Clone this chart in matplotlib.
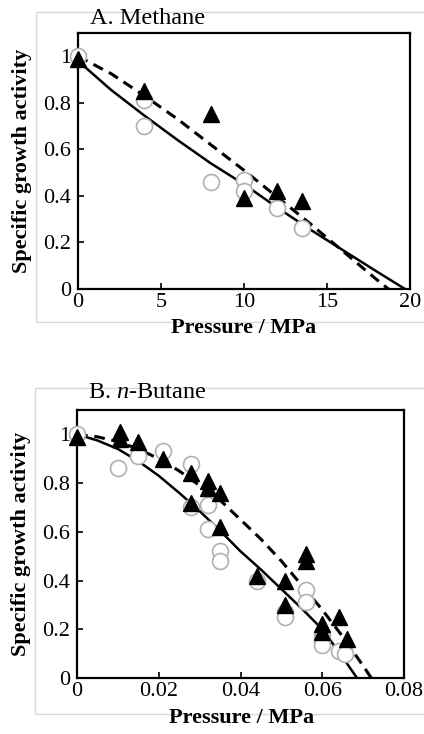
import matplotlib
matplotlib.use('Agg')
import matplotlib.pyplot as plt
from matplotlib.patches import Rectangle

plt.rcParams['font.family'] = 'Liberation Serif'
plt.rcParams['mathtext.fontset'] = 'custom'
plt.rcParams['mathtext.rm'] = 'Liberation Serif'
plt.rcParams['mathtext.it'] = 'Liberation Serif:italic'

# A. Methane
meth_circ_x = [0, 4, 4, 8, 10, 10, 12, 13.5]
meth_circ_y = [1.0, 0.81, 0.70, 0.46, 0.47, 0.42, 0.35, 0.26]
meth_tri_x = [0, 4, 8, 10, 12, 13.5]
meth_tri_y = [0.99, 0.85, 0.75, 0.39, 0.42, 0.38]
meth_solid_x = [0, 2, 4, 6, 8, 10, 12, 14, 16, 18, 19.7]
meth_solid_y = [0.98, 0.855, 0.745, 0.64, 0.54, 0.45, 0.35, 0.255, 0.165, 0.075, 0.0]
meth_dash_x = [0, 2, 4, 6, 8, 10, 12, 14, 16, 18, 18.7]
meth_dash_y = [1.0, 0.925, 0.83, 0.73, 0.62, 0.51, 0.395, 0.28, 0.16, 0.04, 0.0]

# B. n-Butane
but_circ_x = [0, 0.01, 0.015, 0.021, 0.028, 0.028, 0.032, 0.032, 0.035, 0.035,
              0.044, 0.051, 0.051, 0.056, 0.056, 0.060, 0.060, 0.060, 0.064, 0.0656]
but_circ_y = [1.0, 0.86, 0.91, 0.93, 0.88, 0.70, 0.71, 0.61, 0.52, 0.48,
              0.40, 0.27, 0.25, 0.36, 0.31, 0.18, 0.16, 0.135, 0.11, 0.10]
but_tri_x = [0, 0.0105, 0.0105, 0.015, 0.021, 0.028, 0.028, 0.032, 0.032, 0.035, 0.035,
             0.044, 0.051, 0.051, 0.056, 0.056, 0.060, 0.060, 0.064, 0.066]
but_tri_y = [0.99, 1.01, 0.98, 0.97, 0.90, 0.84, 0.72, 0.81, 0.78, 0.76, 0.62,
             0.42, 0.40, 0.30, 0.51, 0.48, 0.22, 0.19, 0.25, 0.16]
but_solid_x = [0, 0.005, 0.01, 0.015, 0.02, 0.025, 0.03, 0.035, 0.04, 0.045,
               0.05, 0.055, 0.06, 0.065, 0.0685]
but_solid_y = [1.0, 0.975, 0.94, 0.89, 0.83, 0.76, 0.685, 0.605, 0.52, 0.445,
               0.365, 0.285, 0.2, 0.085, 0.0]
but_dash_x = [0, 0.005, 0.01, 0.015, 0.02, 0.025, 0.03, 0.035, 0.04, 0.045,
              0.05, 0.055, 0.06, 0.065, 0.07, 0.072]
but_dash_y = [1.0, 0.99, 0.97, 0.94, 0.90, 0.85, 0.79, 0.73, 0.65, 0.57,
              0.48, 0.38, 0.28, 0.17, 0.05, 0.0]

W, H = 424, 734
fig = plt.figure(figsize=(W / 100, H / 100), dpi=100)

# light grey frames around each panel
for (x0, y0, x1, y1) in [(36, 12, 430, 322), (35, 388, 430, 714)]:
    fig.patches.append(Rectangle((x0 / W, 1 - y1 / H), (x1 - x0) / W, (y1 - y0) / H,
                                 transform=fig.transFigure, fill=False,
                                 edgecolor='#d9d9d9', linewidth=1.0, zorder=0))


def panel(rect, cx, cy, tx, ty, sx, sy, dx, dy, xmax, xticks, xlabels):
    ax = fig.add_axes(rect)
    ax.plot(sx, sy, color='black', lw=1.8, zorder=2, solid_capstyle='butt')
    ax.plot(dx, dy, color='black', lw=2.2, ls=(0, (3.5, 2.2)), zorder=2)
    ax.plot(cx, cy, 'o', ms=11.5, mfc='white', mec='#b0b0b0', mew=1.2, zorder=3,
            clip_on=False)
    ax.plot(tx, ty, '^', ms=11, color='black', zorder=4, clip_on=False)
    ax.set_xlim(0, xmax)
    ax.set_ylim(0, 1.1)
    ax.set_xticks(xticks)
    ax.set_xticklabels(xlabels)
    ax.set_yticks([0, 0.2, 0.4, 0.6, 0.8, 1.0])
    ax.set_yticklabels(['0', '0.2', '0.4', '0.6', '0.8', '1'])
    ax.tick_params(direction='in', length=4, width=1.2, labelsize=16, pad=3,
                   top=False, right=False)
    ax.tick_params(axis='y', pad=5)
    for s in ax.spines.values():
        s.set_linewidth(1.6)
    ax.set_ylabel('Specific growth activity', fontsize=16, fontweight='bold',
                  labelpad=8)
    return ax


axA = panel([78 / W, 1 - 289 / H, 332 / W, 256 / H],
            meth_circ_x, meth_circ_y, meth_tri_x, meth_tri_y,
            meth_solid_x, meth_solid_y, meth_dash_x, meth_dash_y,
            20, [0, 5, 10, 15, 20], ['0', '5', '10', '15', '20'])
axB = panel([77 / W, 1 - 678 / H, 327 / W, 268 / H],
            but_circ_x, but_circ_y, but_tri_x, but_tri_y,
            but_solid_x, but_solid_y, but_dash_x, but_dash_y,
            0.08, [0, 0.02, 0.04, 0.06, 0.08], ['0', '0.02', '0.04', '0.06', '0.08'])

fig.text(90 / W, 1 - 18 / H, 'A. Methane', fontsize=17.5, ha='left', va='center')
fig.text(88 / W, 1 - 392 / H, 'B. $n$-Butane', fontsize=17.5, ha='left', va='center')
fig.text(244 / W, 1 - 328 / H, 'Pressure / MPa', fontsize=16, fontweight='bold',
         ha='center', va='center')
fig.text(242 / W, 1 - 718 / H, 'Pressure / MPa', fontsize=16, fontweight='bold',
         ha='center', va='center')

fig.savefig('out.png', dpi=100)
